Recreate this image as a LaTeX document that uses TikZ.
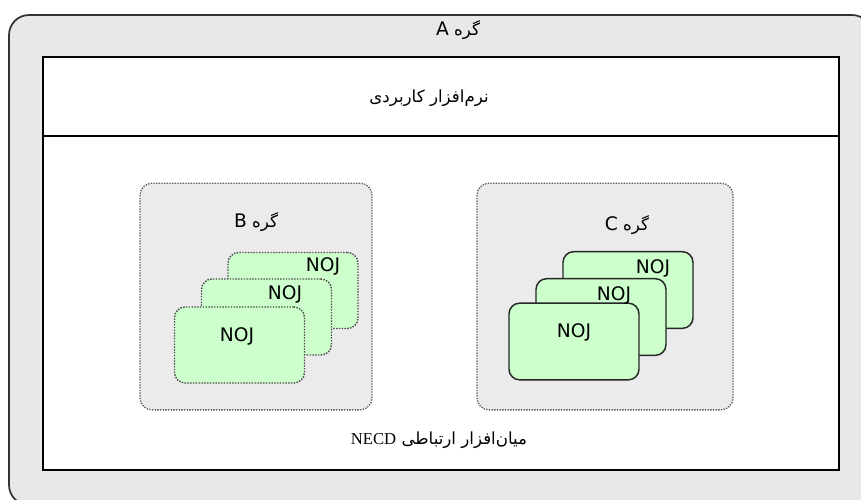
\documentclass[tikz,border=0pt]{standalone}
\usepackage{fontspec}
\setmainfont{DejaVu Sans}
\newfontfamily\farsi[Script=Arabic]{DejaVu Sans}
\newfontfamily\serifname{Liberation Serif}
\TeXXeTstate=1
\definecolor{framegray}{RGB}{232,232,232}
\definecolor{groupgray}{RGB}{235,235,235}
\definecolor{nojgreen}{RGB}{204,255,204}
\usetikzlibrary{positioning}
\tikzstyle{frame} = [draw=black!80,line width=1.3pt,rounded corners=15pt,fill=framegray]
\tikzstyle{layer} = [draw=black,line width=1.3pt,fill=white,inner sep=0pt]
\tikzstyle{group} = [draw=black!65,densely dotted,line width=1pt,rounded corners=9pt,fill=groupgray,minimum height=170pt,inner sep=0pt]
\tikzstyle{card_b} = [draw=black!70,densely dotted,line width=1.1pt,rounded corners=8pt,fill=nojgreen,minimum width=97.5pt,minimum height=57pt,inner sep=0pt]
\tikzstyle{card_c} = [draw=black!85,line width=1.1pt,rounded corners=8pt,fill=nojgreen,minimum width=97.5pt,minimum height=57.5pt,inner sep=0pt]
\tikzstyle{txt} = [font=\fontsize{12.5}{15}\selectfont,inner sep=1pt]
\tikzstyle{noj} = [font=\fontsize{14}{16}\selectfont,inner sep=1pt]
\newcommand{\lat}[1]{{\fontsize{14}{16}\selectfont #1}}

\begin{document}
\begin{tikzpicture}[x=0.75pt,y=-0.75pt]
  \useasboundingbox (0,0) rectangle (861,500);
  \clip (0,0) rectangle (861,500);
  \draw [frame] (9,15) rectangle (872,505);
  \node (title) [txt] at (458,30) {\farsi\beginR گره \lat{A}\endR};
  % layers
  \node (mid) [layer,minimum width=597pt,minimum height=250.5pt] at (441,303) {};
  \node (app) [layer,minimum width=597pt,minimum height=59.25pt] at (441,96.5) {};
  \node (apptxt) [txt] at (429,98) {\farsi\beginR نرم‌افزار کاربردی\endR};
  \node (midtxt) [txt] at (439,440) {\farsi\beginR میان‌افزار ارتباطی \beginL{\serifname NECD}\endL\endR};
  % node B
  \node (gb) [group,minimum width=174pt] at (256,296.5) {};
  \node (gbtxt) [txt] at (256,222) {\farsi\beginR گره \lat{B}\endR};
  \node (b1) [card_b] at (293,290.5) {};
  \node (b2) [card_b] at (266.5,317) {};
  \node (b3) [card_b] at (239.5,345) {};
  \node (b1txt) [noj] at (323,266) {NOJ};
  \node (b2txt) [noj] at (285,294) {NOJ};
  \node (b3txt) [noj] at (237,336) {NOJ};
  % node C
  \node (gc) [group,minimum width=192pt] at (605,296.5) {};
  \node (gctxt) [txt] at (627,225) {\farsi\beginR گره \lat{C}\endR};
  \node (c1) [card_c] at (628,290) {};
  \node (c2) [card_c] at (601,317) {};
  \node (c3) [card_c] at (574,341.5) {};
  \node (c1txt) [noj] at (653,268) {NOJ};
  \node (c2txt) [noj] at (614,295) {NOJ};
  \node (c3txt) [noj] at (574,332) {NOJ};
\end{tikzpicture}
\end{document}
